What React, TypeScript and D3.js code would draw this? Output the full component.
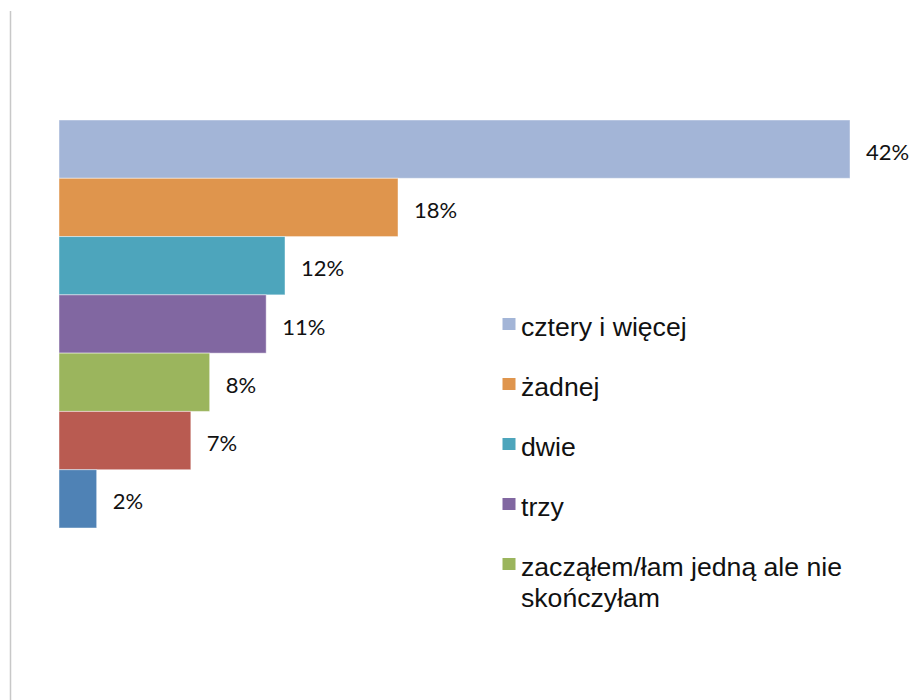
import React from "react";
import * as d3 from "d3";

const categories = [
  "cztery i więcej",
  "żadnej",
  "dwie",
  "trzy",
  "zacząłem/łam jedną ale nie skończyłam",
  "jedną",
  "inne",
];
const values = [42, 18, 12, 11, 8, 7, 2];
const colors = ["#A3B5D7", "#DF954D", "#4DA5BC", "#8167A1", "#9BB55D", "#B95B51", "#4F82B5"];
const legendLines = [
  ["cztery i więcej"],
  ["żadnej"],
  ["dwie"],
  ["trzy"],
  ["zacząłem/łam jedną ale nie", "skończyłam"],
];

export default function App() {
  const W = 914;
  const H = 700;
  const x = d3.scaleLinear().domain([0, 42]).range([59, 850]);
  const y = d3.scaleBand<string>().domain(categories).range([120, 528]).padding(0);
  const legendY = d3.scaleLinear().domain([0, 4]).range([336, 576]);

  return (
    <div style={{ position: "absolute", left: 0, top: 0 }}>
      <svg width={W} height={H} style={{ display: "block", background: "#fff" }}>
        <line x1={10.5} x2={10.5} y1={11} y2={H} stroke="#C8C8C8" strokeWidth={1.5} />
        {categories.map((c, i) => (
          <g key={c}>
            <rect
              x={x(0)}
              y={y(c)!}
              width={x(values[i]) - x(0)}
              height={y.bandwidth()}
              fill={colors[i]}
              stroke="#fff"
              strokeOpacity={0.45}
              strokeWidth={1}
            />
            <text
              x={x(values[i]) + 16}
              y={y(c)! + y.bandwidth() / 2 + 5}
              dominantBaseline="middle"
              fontFamily="Lato, 'Open Sans', sans-serif"
              fontSize={22}
              fill="#111"
            >
              {values[i]}%
            </text>
          </g>
        ))}
        {legendLines.map((lines, i) => (
          <g key={i}>
            <rect x={502.5} y={legendY(i) - 18} width={13} height={12} fill={colors[i]} />
            <g transform="translate(521,0) scale(1.065,1)">
              <text
                x={0}
                y={legendY(i)}
                fontFamily="'Liberation Sans', Arial, sans-serif"
                fontSize={25}
                fill="#111"
              >
                {lines.map((l, j) => (
                  <tspan key={j} x={0} dy={j === 0 ? 0 : 31}>
                    {l}
                  </tspan>
                ))}
              </text>
            </g>
          </g>
        ))}
      </svg>
    </div>
  );
}
